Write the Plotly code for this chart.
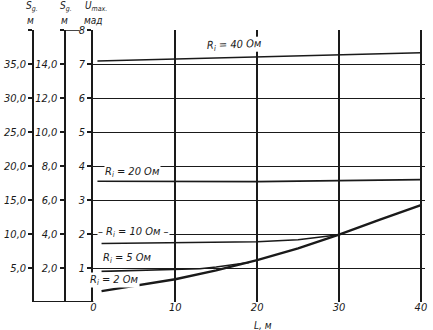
import plotly.graph_objects as go

# ---- data ----
L_ri2 = [1, 5, 10, 15, 20, 25, 30, 35, 40]
U_ri2 = [0.32, 0.47, 0.67, 0.93, 1.23, 1.58, 1.98, 2.42, 2.85]

L_ri5 = [1, 5, 10, 13, 15, 17, 19]
U_ri5 = [0.90, 0.92, 0.95, 0.98, 1.03, 1.09, 1.16]

L_ri10 = [1, 10, 20, 25, 30]
U_ri10 = [1.72, 1.74, 1.77, 1.83, 1.98]

L_ri20 = [0.5, 20, 40]
U_ri20 = [3.55, 3.54, 3.60]

L_ri40 = [0.5, 20, 40]
U_ri40 = [7.09, 7.21, 7.33]

x_ticks = [0, 10, 20, 30, 40]
u_ticks = [1, 2, 3, 4, 5, 6, 7, 8]
sg1_ticks = [5, 10, 15, 20, 25, 30, 35, 40]
sg1_text = ["5,0", "10,0", "15,0", "20,0", "25,0", "30,0", "35,0", " "]
sg2_ticks = [2, 4, 6, 8, 10, 12, 14, 16]
sg2_text = ["2,0", "4,0", "6,0", "8,0", "10,0", "12,0", "14,0", " "]

labels = [
    ("R<sub>i</sub> = 40 Ом", 17.2, 7.56, -2),
    ("R<sub>i</sub> = 20 Ом", 4.8, 3.82, 0),
    ("– R<sub>i</sub> = 10 Ом –", 4.9, 2.05, 0),
    ("R<sub>i</sub> = 5 Ом", 4.2, 1.30, 0),
    ("R<sub>i</sub> = 2 Ом", 2.6, 0.66, 0),
]

# ---- geometry ----
W, H = 433, 330
ML, MR, MT, MB = 0, 8, 30, 28
PW = W - ML - MR
PH = H - MT - MB
X0 = 91      # pixel of L = 0
AX1 = 30.5   # S_g (first) axis pixel
AX2 = 62     # S_g (second) axis pixel

INK = "#1a1a1a"
FONT = dict(family="Liberation Sans Narrow, DejaVu Sans Condensed, Liberation Sans", size=11,
            color=INK, style="italic")
TFONT = dict(FONT, size=10)

fig = go.Figure()

for xs, ys, w in [(L_ri40, U_ri40, 1.6), (L_ri20, U_ri20, 1.6), (L_ri10, U_ri10, 1.6),
                  (L_ri5, U_ri5, 1.6), (L_ri2, U_ri2, 2.4)]:
    fig.add_trace(go.Scatter(x=xs, y=ys, mode="lines", line=dict(color=INK, width=w),
                             showlegend=False, hoverinfo="skip"))

# invisible traces so the extra scales are built
fig.add_trace(go.Scatter(x=[], y=[], yaxis="y2", showlegend=False))
fig.add_trace(go.Scatter(x=[], y=[], yaxis="y3", showlegend=False))

axis_common = dict(showline=True, linecolor=INK, linewidth=2, ticks="outside",
                   ticklen=4, tickwidth=1.5, tickcolor=INK, tickfont=FONT,
                   zeroline=False, fixedrange=True)

fig.update_layout(
    width=W, height=H,
    margin=dict(l=ML, r=MR, t=MT, b=MB),
    paper_bgcolor="white", plot_bgcolor="white",
    xaxis=dict(domain=[X0 / PW, 1], range=[0, 40.5], tickvals=x_ticks,
               showgrid=True, gridcolor=INK, gridwidth=1.6, zeroline=False,
               showline=False, ticks="", tickfont=FONT, fixedrange=True,
               ticklabelstandoff=-3),
    yaxis=dict(range=[0, 8], tickvals=u_ticks, showgrid=True, gridcolor=INK,
               gridwidth=1.4, anchor="x", **axis_common),
    yaxis2=dict(range=[0, 40], tickvals=sg1_ticks, ticktext=sg1_text,
                overlaying="y", anchor="free", position=AX1 / PW, side="left",
                showgrid=False, **axis_common),
    yaxis3=dict(range=[0, 16], tickvals=sg2_ticks, ticktext=sg2_text,
                overlaying="y", anchor="free", position=AX2 / PW, side="left",
                showgrid=False, **axis_common),
)

# bottom connecting line of the left scales and top joining segment
fig.add_shape(type="line", xref="paper", yref="y", x0=AX1 / PW, x1=X0 / PW, y0=0, y1=0,
              line=dict(color=INK, width=2))
fig.add_shape(type="line", xref="paper", yref="y", x0=AX2 / PW, x1=77 / PW, y0=8, y1=8,
              line=dict(color=INK, width=1.6))

def py(ypx):
    return (H - MB - ypx) / PH

titles = [("S<sub>g.</sub>", 29, 6), ("м", 28, 21),
          ("S<sub>g.</sub>", 63, 6), ("м", 62, 21),
          ("U<sub>max.</sub>", 94, 6), ("мад", 91, 21)]
for t, xpx, ypx in titles:
    fig.add_annotation(text=t, xref="paper", yref="paper", x=xpx / PW, y=py(ypx),
                       showarrow=False, font=TFONT, xanchor="center", yanchor="middle")

fig.add_annotation(text="L, м", xref="paper", yref="paper", x=262 / PW, y=py(325),
                   showarrow=False, font=TFONT, yanchor="middle")

for t, lx, ly, ang in labels:
    fig.add_annotation(text=t, x=lx, y=ly, xref="x", yref="y", showarrow=False,
                       font=FONT, textangle=ang, bgcolor="white", borderpad=0)

fig.write_html("out.html")
